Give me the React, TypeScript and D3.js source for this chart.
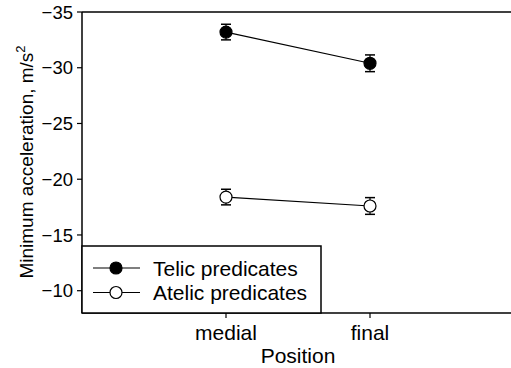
import * as d3 from 'd3';
import { type FC } from 'react';

// Chart data
const positions = ['medial', 'final'];
const telicMeans = [-33.2, -30.4];
const telicErrors = [0.7, 0.75];
const atelicMeans = [-18.4, -17.6];
const atelicErrors = [0.7, 0.75];
const yTicks = [-35, -30, -25, -20, -15, -10];
const seriesNames = ['Telic predicates', 'Atelic predicates'];

const W = 511;
const H = 368;
const margin = { top: 12, right: 0, bottom: 55, left: 82 };
const font = 'Arial, "Liberation Sans", sans-serif';

const App: FC = () => {
  const x = d3.scaleLinear().domain([0, 3]).range([margin.left, W + 3]);
  const y = d3.scaleLinear().domain([-35, -8]).range([margin.top, H - margin.bottom]);
  const xPos = (i: number) => x(i + 1);
  const line = d3
    .line<number>()
    .x((_, i) => xPos(i))
    .y((d) => y(d));

  const series = [
    { name: seriesNames[0], means: telicMeans, errs: telicErrors, fill: '#000' },
    { name: seriesNames[1], means: atelicMeans, errs: atelicErrors, fill: '#fff' },
  ];

  const y0 = H - margin.bottom;
  const legend = { x: margin.left, y: 246, w: 239, h: y0 - 246 };

  return (
    <svg
      width={W}
      height={H}
      style={{ position: 'absolute', left: 0, top: 0, background: '#fff' }}
      fontFamily={font}
    >
      {/* axes frame */}
      <line x1={margin.left} x2={W} y1={margin.top} y2={margin.top} stroke="#000" strokeWidth={1.5} />
      <line x1={margin.left} x2={W} y1={y0} y2={y0} stroke="#000" strokeWidth={1.5} />
      <line x1={margin.left} x2={margin.left} y1={margin.top} y2={y0} stroke="#000" strokeWidth={1.5} />

      {/* y ticks */}
      {yTicks.map((t) => (
        <g key={t}>
          <line x1={margin.left - 5} x2={margin.left} y1={y(t)} y2={y(t)} stroke="#000" strokeWidth={1.2} />
          <text x={73} y={y(t)} dy="0.36em" textAnchor="end" fontSize={18.5}>
            {`\u2212${Math.abs(t)}`}
          </text>
        </g>
      ))}

      {/* x ticks */}
      {positions.map((p, i) => (
        <g key={p}>
          <line x1={xPos(i)} x2={xPos(i)} y1={y0} y2={y0 + 5} stroke="#000" strokeWidth={1.2} />
          <text x={xPos(i)} y={340} textAnchor="middle" fontSize={21}>
            {p}
          </text>
        </g>
      ))}

      <text x={(xPos(0) + xPos(1)) / 2} y={363} textAnchor="middle" fontSize={21}>
        Position
      </text>
      <text
        transform={`translate(33, 162) rotate(-90)`}
        textAnchor="middle"
        fontSize={19}
      >
        Minimum acceleration, m/s
        <tspan dy={-8} fontSize={13}>2</tspan>
      </text>

      {/* series */}
      {series.map((s) => (
        <g key={s.name}>
          <path d={line(s.means) || ''} fill="none" stroke="#000" strokeWidth={1.2} />
          {s.means.map((m, i) => (
            <g key={i}>
              <line x1={xPos(i)} x2={xPos(i)} y1={y(m - s.errs[i])} y2={y(m + s.errs[i])} stroke="#000" strokeWidth={1.2} />
              <line x1={xPos(i) - 5} x2={xPos(i) + 5} y1={y(m - s.errs[i])} y2={y(m - s.errs[i])} stroke="#000" strokeWidth={1.5} />
              <line x1={xPos(i) - 5} x2={xPos(i) + 5} y1={y(m + s.errs[i])} y2={y(m + s.errs[i])} stroke="#000" strokeWidth={1.5} />
              <circle cx={xPos(i)} cy={y(m)} r={6} fill={s.fill} stroke="#000" strokeWidth={1.2} />
            </g>
          ))}
        </g>
      ))}

      {/* legend */}
      <rect x={legend.x} y={legend.y} width={legend.w} height={legend.h} fill="#fff" stroke="#000" strokeWidth={1.5} />
      {series.map((s, i) => {
        const ly = 268 + i * 24.5;
        return (
          <g key={s.name}>
            <line x1={93} x2={140} y1={ly} y2={ly} stroke="#000" strokeWidth={1.2} />
            <circle cx={116} cy={ly} r={6} fill={s.fill} stroke="#000" strokeWidth={1.2} />
            <text x={153} y={ly} dy="0.36em" fontSize={21}>
              {s.name}
            </text>
          </g>
        );
      })}
    </svg>
  );
};

export default App;
